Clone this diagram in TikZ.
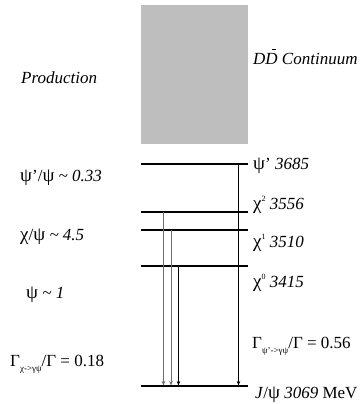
\documentclass[tikz,border=0pt]{standalone}
\usepackage{fontspec}
\setmainfont{Liberation Serif}
\newfontfamily\grkfont{Liberation Serif}[Scale=1.12]
\usetikzlibrary{arrows.meta}
\definecolor{boxgray}{RGB}{190,190,190}
\definecolor{arrgray}{RGB}{110,110,110}
\newcommand{\gr}[1]{{\grkfont\upshape #1}}
\newcommand{\mysup}[1]{\raisebox{0.42em}{\fontsize{8}{8}\selectfont #1}}
\newcommand{\mysub}[1]{\raisebox{-0.3em}{\fontsize{9}{9}\selectfont #1}}
\newcommand{\barD}{\leavevmode\rlap{\hspace{0.38em}\raisebox{0.85em}{\rule{0.26em}{0.06em}}}D}
\begin{document}
\begin{tikzpicture}[x=1pt,y=-1pt,
  lvl/.style={line width=1.7pt},
  tr/.style={line width=0.6pt,-{Stealth[length=4.5pt,width=3.5pt]}},
  lab/.style={anchor=base west, inner sep=0pt, font=\fontsize{17}{19}\selectfont}]
\useasboundingbox (0,0) rectangle (360,404);
\fill[boxgray] (141,5) rectangle (248,144);
% levels
\coordinate (pL) at (141,164); \coordinate (pR) at (248,164);
\coordinate (c2L) at (141,212); \coordinate (c2R) at (248,212);
\coordinate (c1L) at (141,230); \coordinate (c1R) at (248,230);
\coordinate (c0L) at (141,266); \coordinate (c0R) at (248,266);
\coordinate (jL) at (141,386); \coordinate (jR) at (248,386);
\draw[lvl] (pL) -- (pR);
\draw[lvl] (c2L) -- (c2R);
\draw[lvl] (c1L) -- (c1R);
\draw[lvl] (c0L) -- (c0R);
\draw[lvl] (jL) -- (jR);
% transitions
\coordinate (t2a) at (163.5,212); \coordinate (t2b) at (163.5,385.5);
\coordinate (t1a) at (171,230); \coordinate (t1b) at (171,385.5);
\coordinate (t0a) at (178.5,266); \coordinate (t0b) at (178.5,385.5);
\coordinate (tpa) at (238.5,164); \coordinate (tpb) at (238.5,385.5);
\draw[tr,arrgray] (t2a) -- (t2b);
\draw[tr,arrgray] (t1a) -- (t1b);
\draw[tr] (t0a) -- (t0b);
\draw[tr] (tpa) -- (tpb);
% left labels
\node[lab] (prod) at (21,83) {\textit{Production}};
\node[lab] (r1) at (20,181) {\gr{ψ}’/\gr{ψ} \textit{\textasciitilde{} 0.33}};
\node[lab] (r2) at (20,240) {\gr{χ}/\gr{ψ} \textit{\textasciitilde{} 4.5}};
\node[lab] (r3) at (26,298) {\gr{ψ} \textit{\textasciitilde{} 1}};
\node[lab] (g1) at (10,366) {Γ\mysub{χ->γψ}/Γ = 0.18};
% right labels
\node[lab] (cont) at (253,64) {\textit{D\barD{} Continuum}};
\node[lab] (lp) at (253,169) {\gr{ψ}’ \textit{3685}};
\node[lab] (l2) at (253,209) {\gr{χ}\mysup{2} \textit{3556}};
\node[lab] (l1) at (253,247) {\gr{χ}\mysup{1} \textit{3510}};
\node[lab] (l0) at (253,287) {\gr{χ}\mysup{0} \textit{3415}};
\node[lab] (g2) at (252,348) {Γ\mysub{ψ’->γψ}/Γ = 0.56};
\node[lab] (lj) at (255,398) {\textit{J}/\gr{ψ} \textit{3069} MeV};
\end{tikzpicture}
\end{document}
